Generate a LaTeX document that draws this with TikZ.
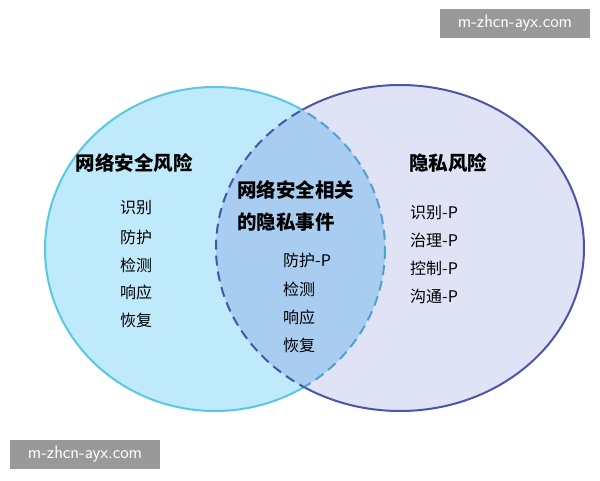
\documentclass[tikz,border=0pt]{standalone}
\usepackage{fontspec}
\newfontfamily\cjk{Noto Sans CJK SC}
\usepackage{tikz}
\begin{document}
\begin{tikzpicture}[x=1pt,y=-1pt,
  head/.style={font=\cjk\bfseries\fontsize{19.5}{22}\selectfont},
  item/.style={font=\cjk\fontsize{16}{18}\selectfont},
  wm/.style={fill=black!40,text=white,font=\fontsize{18}{20}\selectfont\sffamily,minimum width=150pt,minimum height=29pt,inner sep=0pt}]
\useasboundingbox (0,0) rectangle (600,480);
\fill[white] (0,0) rectangle (600,480);
\def\L{(215,249) ellipse [x radius=170,y radius=162]}
\def\R{(400,248) ellipse [x radius=184,y radius=163]}
\fill[fill=cyan!25!white] \L;
\fill[fill={rgb,255:red,223;green,227;blue,245}] \R;
\begin{scope}\clip \L; \fill[fill={rgb,255:red,168;green,205;blue,240}] \R; \end{scope}
% solid outer borders
\begin{scope}[even odd rule]\clip (0,0) rectangle (600,480) \R;
  \draw[line width=2pt,draw={rgb,255:red,90;green,200;blue,225}] \L; \end{scope}
\begin{scope}[even odd rule]\clip (0,0) rectangle (600,480) \L;
  \draw[line width=2pt,draw={rgb,255:red,75;green,85;blue,170}] \R; \end{scope}
% dashed inner borders
\begin{scope}\clip \R;
  \draw[line width=2pt,dash pattern=on 10pt off 6pt,draw={rgb,255:red,80;green,160;blue,210}] \L; \end{scope}
\begin{scope}\clip \L;
  \draw[line width=2pt,dash pattern=on 10pt off 6pt,draw={rgb,255:red,60;green,90;blue,170}] \R; \end{scope}
\node[head] (lh) at (134,163) {网络安全风险};
\node[item] (l1) at (136,208) {识别};
\node[item] (l2) at (136,237) {防护};
\node[item] (l3) at (136,265) {检测};
\node[item] (l4) at (136,292) {响应};
\node[item] (l5) at (136,320) {恢复};
\node[head,anchor=west,inner sep=0pt] (mh1) at (237,190) {网络安全相关};
\node[head,anchor=west,inner sep=0pt] (mh2) at (237,222) {的隐私事件};
\node[item,anchor=west,inner sep=0pt] (m1) at (283,260) {防护-P};
\node[item,anchor=west,inner sep=0pt] (m2) at (283,289) {检测};
\node[item,anchor=west,inner sep=0pt] (m3) at (283,317) {响应};
\node[item,anchor=west,inner sep=0pt] (m4) at (283,345) {恢复};
\node[head] (rh) at (448,163) {隐私风险};
\node[item,anchor=west,inner sep=0pt] (r1) at (410,213) {识别-P};
\node[item,anchor=west,inner sep=0pt] (r2) at (410,240) {治理-P};
\node[item,anchor=west,inner sep=0pt] (r3) at (410,268) {控制-P};
\node[item,anchor=west,inner sep=0pt] (r4) at (410,296) {沟通-P};
\node[wm] (w1) at (515,23) {m-zhcn-ayx.com};
\node[wm] (w2) at (85,454) {m-zhcn-ayx.com};
\end{tikzpicture}
\end{document}
